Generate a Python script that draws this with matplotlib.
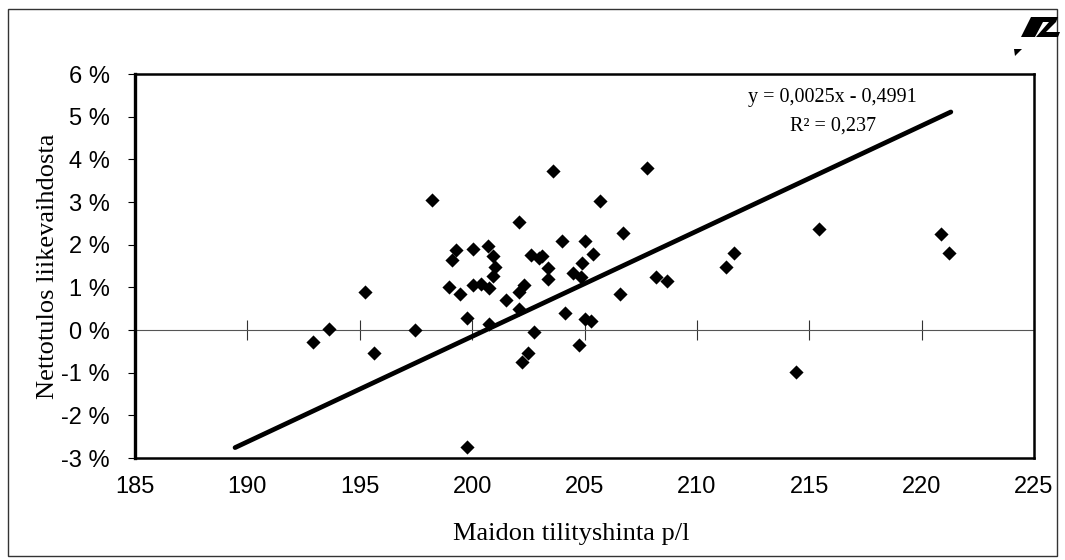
import matplotlib.pyplot as plt
import numpy as np
from matplotlib.patches import Rectangle, Polygon

# milk price (p/l) vs. net result as % of turnover
price = [192.93, 193.64, 195.25, 195.63, 197.45, 198.20, 198.95, 199.09, 199.30,
         199.45, 199.79, 199.75, 200.02, 200.02, 200.39, 200.69, 200.76, 200.76,
         200.94, 201.03, 200.94, 201.50, 202.07, 202.09, 202.09, 202.31, 202.21,
         202.48, 202.61, 202.98, 202.76, 203.59, 203.38, 203.38, 203.13, 203.98,
         204.13, 204.47, 204.77, 204.85, 204.88, 205.00, 205.00, 205.28, 205.38,
         205.68, 206.57, 206.72, 207.79, 208.18, 208.68, 211.31, 211.66, 214.39,
         215.42, 220.86, 221.22]
margin = [-0.27, 0.02, 0.90, -0.53, 0.00, 3.05, 1.01, 1.64, 1.87,
          0.84, 0.29, -2.73, 1.91, 1.05, 1.07, 1.98, 0.98, 0.13,
          1.74, 1.48, 1.27, 0.70, 2.54, 0.49, 0.90, 1.05, -0.74,
          -0.54, 1.76, 1.68, -0.04, 3.73, 1.45, 1.19, 1.73, 2.09,
          0.41, 1.34, -0.35, 1.24, 1.58, 2.09, 0.26, 0.22, 1.78,
          3.02, 0.84, 2.28, 3.79, 1.24, 1.15, 1.47, 1.81, -0.99,
          2.36, 2.24, 1.80]

# linear trend as drawn in the chart
trend_slope = 0.00247
trend_intercept = -0.4955
trend_range = [189.45, 221.3]
eq_text = "y = 0,0025x - 0,4991"
r2_text = "R\u00b2 = 0,237"

x_ticks = [185, 190, 195, 200, 205, 210, 215, 220, 225]
y_ticks = [-3, -2, -1, 0, 1, 2, 3, 4, 5, 6]

plt.rcParams['font.family'] = ['Liberation Sans', 'DejaVu Sans']
serif = ['Liberation Serif', 'DejaVu Serif']

fig = plt.figure(figsize=(10.65, 5.6), dpi=100)
ax = fig.add_axes([0.1268, 0.1821, 0.8441, 0.6857])

ax.scatter(price, margin, marker='D', s=52, color='black', linewidths=0, zorder=3)
tx = np.array(trend_range)
ty = (trend_slope * tx + trend_intercept) * 100
ax.plot(tx, ty, color='black', lw=3.4, solid_capstyle='round', zorder=4)

ax.set_xlim(x_ticks[0], x_ticks[-1])
ax.set_ylim(y_ticks[0], y_ticks[-1])
ax.set_xticks(x_ticks)
ax.set_yticks(y_ticks)
ax.yaxis.set_major_formatter(plt.FuncFormatter(lambda v, p: f"{int(round(v))} %"))
ax.tick_params(axis='x', length=0, pad=13, labelsize=17)
ax.tick_params(axis='y', direction='out', length=5, width=0.8, pad=13, labelsize=17)
for s in ax.spines.values():
    s.set_linewidth(1.8)
    s.set_color('black')
ax.spines['left'].set_linewidth(2.4)

# horizontal axis crossing at zero with its tick marks
zero_pos = (0 - y_ticks[0]) / (y_ticks[-1] - y_ticks[0])
sec = ax.secondary_xaxis(zero_pos)
sec.set_xticks(x_ticks)
sec.tick_params(direction='inout', length=14, width=0.8, labelbottom=False, color='#333333')
sec.spines['bottom'].set_linewidth(0.8)
sec.spines['bottom'].set_color('#555555')

ax.set_ylabel("Nettotulos liikevaihdosta", fontfamily=serif, fontsize=19)
ax.yaxis.set_label_coords(-0.0845, 0.5)
ax.set_xlabel("Maidon tilityshinta p/l", fontfamily=serif, fontsize=19)
ax.xaxis.set_label_coords(0.485, -0.17)

ax.text(0.776, 0.94, eq_text, transform=ax.transAxes, ha='center', va='center',
        fontfamily=serif, fontsize=14.5)
ax.text(0.776, 0.865, r2_text, transform=ax.transAxes, ha='center', va='center',
        fontfamily=serif, fontsize=14.5)

# outer chart frame
W, H = 1065, 560
fig.patches.append(Rectangle((8 / W, 1 - 556 / H), 1049 / W, 547 / H, transform=fig.transFigure,
                             fill=False, lw=1.0, edgecolor='#333333'))

# small logo in the top right corner
def px(pts):
    return [(x / W, 1 - y / H) for x, y in pts]

logo = [
    [(1031, 17), (1058, 17), (1056, 22), (1043, 22), (1035, 37), (1021, 37)],
    [(1049, 22), (1056, 22), (1046, 32), (1060, 32), (1058, 37), (1036, 37)],
    [(1014, 49), (1022, 49), (1015, 56)],
]
for shape in logo:
    fig.patches.append(Polygon(px(shape), closed=True, transform=fig.transFigure,
                               color='black', lw=0))

fig.savefig("out.png", dpi=100)
